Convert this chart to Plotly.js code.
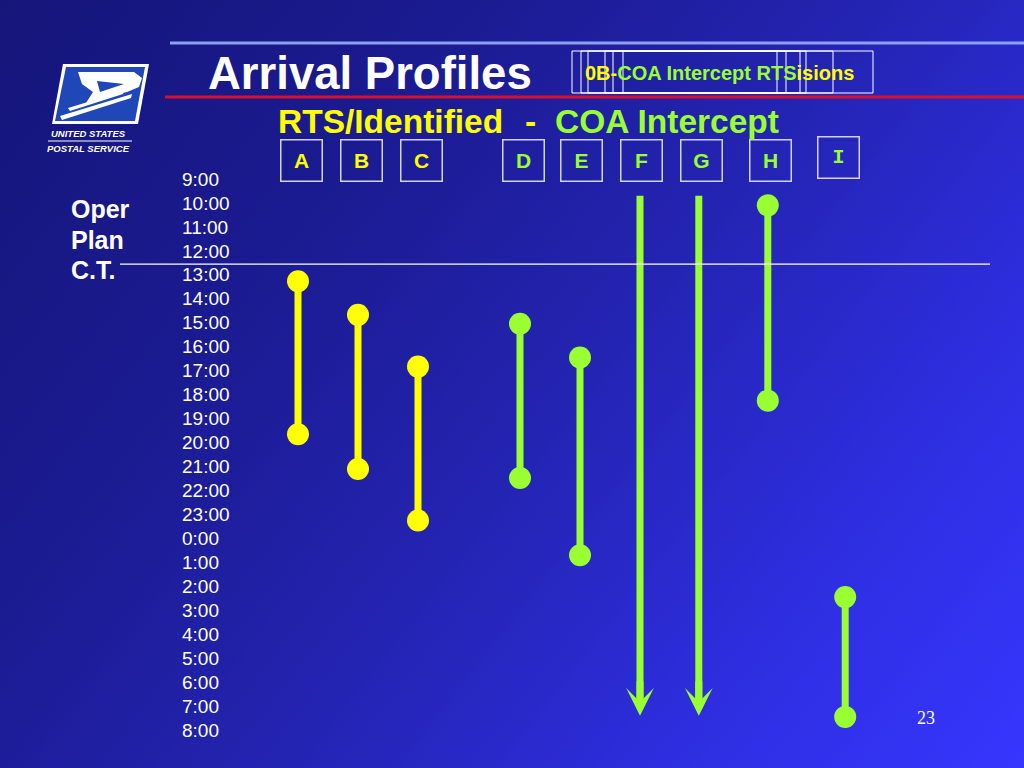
<!DOCTYPE html>
<html>
<head>
<meta charset="utf-8">
<script src="https://cdn.plot.ly/plotly-3.0.1.min.js"></script>
<style>
html,body{margin:0;padding:0;width:1024px;height:768px;overflow:hidden;
background:linear-gradient(128deg,#15157a 0%,#1b1b92 30%,#2424b4 55%,#2e2ee0 78%,#3636ff 100%);}
#chart{width:1024px;height:768px;}
</style>
</head>
<body>
<div id="chart"></div>
<script>
// ---- data ----
const columns   = ['A','B','C','D','E','F','G','H','I'];
const groups    = ['RTS','RTS','RTS','COA','COA','COA','COA','COA','COA'];
// clock hours (decimal) at which arrivals start / end
const startTime = [13.27, 14.67, 16.83, 15.04, 16.45, 9.7, 9.7, 10.1, 2.45];
const endTime   = [19.65, 21.1, 23.25, 21.48, 0.7, 7.4, 7.4, 18.25, 7.45];
const openEnded = [false, false, false, false, false, true, true, false, false];
const tickLabels = ['9:00','10:00','11:00','12:00','13:00','14:00','15:00','16:00',
  '17:00','18:00','19:00','20:00','21:00','22:00','23:00','0:00','1:00','2:00',
  '3:00','4:00','5:00','6:00','7:00','8:00'];
const operPlanCT = 12.55; // Oper Plan critical time (clock hours)
const dayStart = 9;       // axis starts at 9:00

// ---- layout helpers ----
const barSlot   = [0, 1, 2, 3.7, 4.7, 5.7, 6.68, 7.83, 9.12];
const labelSlot = [0.06, 1.05, 2.05, 3.75, 4.73, 5.73, 6.73, 7.87, 9.0];
const groupColor = {RTS:'#ffff00', COA:'#99ff33'};
const W = 1024, H = 768;
const px = x => x / W, py = y => 1 - y / H;
const off = t => ((t - dayStart) % 24 + 24) % 24;
const FONT = 'Arial, "Liberation Sans", Helvetica, sans-serif';

const traces = [];
const annotations = [];
const shapes = [];

columns.forEach((c, i) => {
  const col = groupColor[groups[i]];
  const y0 = off(startTime[i]), y1 = off(endTime[i]);
  if (openEnded[i]) {
    traces.push({x:[barSlot[i], barSlot[i]], y:[y0, y1 - 0.6], mode:'lines',
      line:{color:col, width:7}, hoverinfo:'skip', showlegend:false});
    annotations.push({x:barSlot[i], y:y1, xref:'x', yref:'y', ax:barSlot[i], ay:y1 - 1.5,
      axref:'x', ayref:'y', text:'', showarrow:true, arrowhead:3, arrowsize:0.66,
      arrowwidth:7, arrowcolor:col, standoff:0, startstandoff:0});
  } else {
    traces.push({x:[barSlot[i], barSlot[i]], y:[y0, y1], mode:'lines+markers',
      line:{color:col, width:7}, marker:{color:col, size:22},
      hoverinfo:'skip', showlegend:false, cliponaxis:false});
  }
  const isI = c === 'I';
  annotations.push({x:labelSlot[i], xref:'x', y: py(isI ? 157 : 160), yref:'paper',
    text: '<b>' + c + '</b>', showarrow:false,
    font:{family: isI ? '"Liberation Mono", "Courier New", monospace' : FONT,
          size: isI ? 20 : 21, color: col},
    width:38, height:38, borderpad:1, bordercolor:'#d4d4f2', borderwidth:1.5,
    xanchor:'center', yanchor:'middle'});
});

// Oper Plan C.T. line
shapes.push({type:'line', xref:'paper', yref:'y', x0:px(120), x1:px(990),
  y0:off(operPlanCT), y1:off(operPlanCT), line:{color:'#ffffff', width:1.3}});

// slide decorations
shapes.push({type:'line', xref:'paper', yref:'paper', x0:px(170), x1:1, y0:py(43), y1:py(43),
  line:{color:'#8c9ff0', width:3}});
shapes.push({type:'line', xref:'paper', yref:'paper', x0:px(165), x1:1, y0:py(97), y1:py(97),
  line:{color:'#d8102c', width:3}});
// overlapping boxes near title
[[572,873],[581,833],[588,806],[605,800],[613,786],[623,777]].forEach(b => {
  shapes.push({type:'rect', xref:'paper', yref:'paper', x0:px(b[0]), x1:px(b[1]),
    y0:py(93), y1:py(51), line:{color:'#ffffff', width:1}});
});

// logo
const pathPx = pts => pts.map((p, k) => (k ? 'L' : 'M') + px(p[0]).toFixed(5) + ',' + py(p[1]).toFixed(5)).join(' ') + ' Z';
const blue = '#1f47b8';
shapes.push({type:'path', xref:'paper', yref:'paper', path:pathPx([[63,64],[149,64],[138,124],[52,124]]),
  fillcolor:'#ffffff', line:{width:0}});
shapes.push({type:'path', xref:'paper', yref:'paper', path:pathPx([[66,67],[145,67],[135,121],[55,121]]),
  fillcolor:blue, line:{width:0}});
shapes.push({type:'path', xref:'paper', yref:'paper',
  path:pathPx([[78,72],[134,72],[142,78],[139,87],[127,92],[106,97],[86,103],[93,92],[82,84]]),
  fillcolor:'#ffffff', line:{width:0}});
shapes.push({type:'path', xref:'paper', yref:'paper', path:pathPx([[97,81],[124,84],[100,92]]),
  fillcolor:blue, line:{width:0}});
shapes.push({type:'path', xref:'paper', yref:'paper', path:pathPx([[60,116],[132,94],[131,98],[62,120]]),
  fillcolor:'#ffffff', line:{width:0}});
shapes.push({type:'path', xref:'paper', yref:'paper', path:pathPx([[68,108],[124,91],[123,94],[70,111]]),
  fillcolor:'#ffffff', line:{width:0}});
shapes.push({type:'line', xref:'paper', yref:'paper', x0:px(48), x1:px(132), y0:py(141), y1:py(141),
  line:{color:'#ffffff', width:1}});

const txt = (text, x, y, size, color, opts = {}) => Object.assign({
  text, x:px(x), y:py(y), xref:'paper', yref:'paper', showarrow:false,
  font:{family:FONT, size, color}, xanchor:'left', yanchor:'middle'}, opts);

annotations.push(txt('<b><i>UNITED STATES</i></b>', 88, 134, 9.5, '#ffffff', {xanchor:'center'}));
annotations.push(txt('<b><i>POSTAL SERVICE</i></b>', 88, 148, 9.5, '#ffffff', {xanchor:'center'}));
annotations.push(txt('<b>Arrival Profiles</b>', 206, 73, 45.5, '#ffffff'));
annotations.push(txt('<b><span style="color:#ffff00">0B-</span><span style="color:#99ff33">COA Intercept RTS</span><span style="color:#ffff00">isions</span></b>',
  583, 73, 20, '#ffff00'));
annotations.push(txt('<b>RTS/Identified</b>', 276, 121, 33.5, '#ffff00'));
annotations.push(txt('<b>-</b>', 530, 121, 33.5, '#ffff00', {xanchor:'center'}));
annotations.push(txt('<b>COA Intercept</b>', 553, 121, 33.5, '#99ff33'));
annotations.push(txt('<b>Oper</b>', 69, 209, 25, '#ffffff'));
annotations.push(txt('<b>Plan</b>', 69, 240, 25, '#ffffff'));
annotations.push(txt('<b>C.T.</b>', 69, 270, 25, '#ffffff'));
annotations.push(txt('23', 926, 718, 18, '#ffffff',
  {xanchor:'center', font:{family:'"Liberation Serif", "Times New Roman", serif', size:18, color:'#ffffff'}}));

const layout = {
  width: W, height: H,
  margin: {l:0, r:0, t:0, b:0, pad:0},
  paper_bgcolor: 'rgba(0,0,0,0)', plot_bgcolor: 'rgba(0,0,0,0)',
  showlegend: false, hovermode: false,
  xaxis: {range:[-298/60, (W-298)/60], visible:false, fixedrange:true},
  yaxis: {range:[(H-179)/23.96, -179/23.96], tickvals: tickLabels.map((_, k) => k),
    ticktext: tickLabels, anchor:'free', position: px(178), ticklabelposition:'inside',
    showgrid:false, zeroline:false, showline:false, ticks:'',
    tickfont:{family:FONT, size:19, color:'#ffffff'}, fixedrange:true},
  shapes, annotations
};

Plotly.newPlot('chart', traces, layout, {displayModeBar:false, staticPlot:true});
</script>
</body>
</html>
